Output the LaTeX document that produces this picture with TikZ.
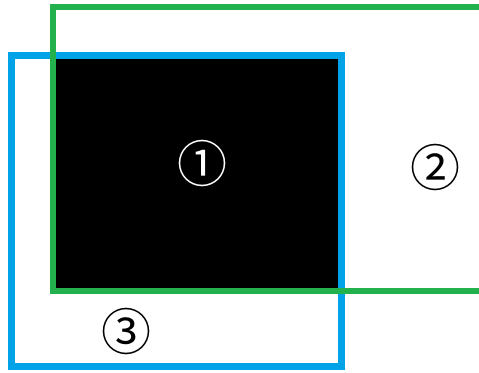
\documentclass[tikz,border=0pt]{standalone}
\usepackage{fontspec}
\newfontfamily\cjk{Noto Sans CJK SC}
\usetikzlibrary{positioning}
\definecolor{paintgreen}{RGB}{34,177,76}
\definecolor{paintblue}{RGB}{0,162,232}

\begin{document}
\begin{tikzpicture}[
    x=1pt, y=-1pt,
    frame/.style={line width=6.5pt, line cap=rect},
    num/.style={font=\cjk\fontsize{50}{50}\selectfont, inner sep=0pt},
]
\useasboundingbox (0,0) rectangle (479,372);
\clip (0,0) rectangle (479,372);

% Overlap (filled)
\fill[black] (53,55.5) rectangle (341.5,291);

% Blue frame
\draw[frame, paintblue] (11.5,55.5) rectangle (341.5,366.5);

% Green frame, open to the right
\draw[frame, paintgreen] (490,7) -- (53,7) -- (53,291) -- (490,291);

% Labels
\node[num, white] (one) at (202,163) {①};
\node[num] (two) at (435,167) {②};
\node[num] (three) at (126,331) {③};
\end{tikzpicture}
\end{document}
